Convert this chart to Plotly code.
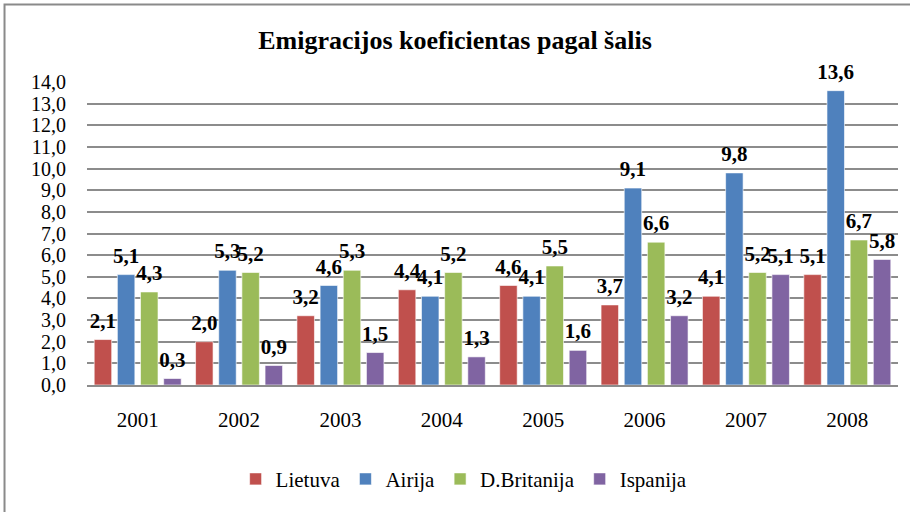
import plotly.graph_objects as go

years = ["2001", "2002", "2003", "2004", "2005", "2006", "2007", "2008"]
lietuva = [2.1, 2.0, 3.2, 4.4, 4.6, 3.7, 4.1, 5.1]
airija = [5.1, 5.3, 4.6, 4.1, 4.1, 9.1, 9.8, 13.6]
britanija = [4.3, 5.2, 5.3, 5.2, 5.5, 6.6, 5.2, 6.7]
ispanija = [0.3, 0.9, 1.5, 1.3, 1.6, 3.2, 5.1, 5.8]
series_names = ["Lietuva", "Airija", "D.Britanija", "Ispanija"]
series_values = [lietuva, airija, britanija, ispanija]
colors = ["#C0504D", "#4F81BD", "#9BBB59", "#8064A2"]
y_ticks = [i * 1.0 for i in range(15)]

SERIF = "Liberation Serif, Times New Roman, serif"

fig = go.Figure()
for name, vals, col in zip(series_names, series_values, colors):
    fig.add_trace(go.Bar(
        x=years, y=vals, name=name,
        marker=dict(color=col, line=dict(color="rgba(255,255,255,0.6)", width=1)),
        hoverinfo="skip",
    ))
for name, vals in zip(series_names, series_values):
    fig.add_trace(go.Scatter(
        x=years, y=vals, mode="markers+text",
        marker=dict(size=9, opacity=0),
        text=[f"{v:.1f}".replace(".", ",") for v in vals],
        textposition="top center",
        textfont=dict(family=SERIF, size=21, color="black", weight="bold"),
        cliponaxis=False,
        showlegend=False, hoverinfo="skip",
    ))

fig.update_layout(
    width=910, height=512,
    margin=dict(l=87, r=12, t=82, b=125),
    paper_bgcolor="white", plot_bgcolor="white",
    barmode="group", bargap=0.086, bargroupgap=0.245,
    scattermode="group", scattergap=0.086,
    separators=", ",
    title=dict(text="<b>Emigracijos koeficientas pagal šalis</b>",
               x=0.5, xanchor="center", y=0.922, yanchor="middle",
               font=dict(family=SERIF, size=26, color="black")),
    font=dict(family=SERIF, color="black"),
    legend=dict(orientation="h", x=0.465, xanchor="center", xref="paper",
                y=-0.311, yanchor="middle", font=dict(family=SERIF, size=21, color="black"),
                itemwidth=30, traceorder="normal"),
    showlegend=True,
)
fig.update_xaxes(type="category", tickfont=dict(family=SERIF, size=21, color="black"),
                 showline=True, linecolor="#8c8c8c", linewidth=1.5, ticks="", showgrid=False,
                 ticklabelstandoff=15)
fig.update_yaxes(range=[0, 14], tickvals=y_ticks, tickformat=".1f",
                 tickfont=dict(family=SERIF, size=20, color="black"),
                 showgrid=True, gridcolor="#8c8c8c", gridwidth=1.5,
                 zeroline=False, showline=False, ticks="", ticklen=0,
                 ticklabelstandoff=20)
fig.add_shape(type="rect", xref="paper", yref="paper",
              x0=-0.1017, x1=1.05, y0=-0.6, y1=1.2557,
              line=dict(color="#8a8a8a", width=2), fillcolor="rgba(0,0,0,0)", layer="below")

fig.write_html("out.html", config={"displayModeBar": False},
               post_script="document.body.style.margin='0px';")
